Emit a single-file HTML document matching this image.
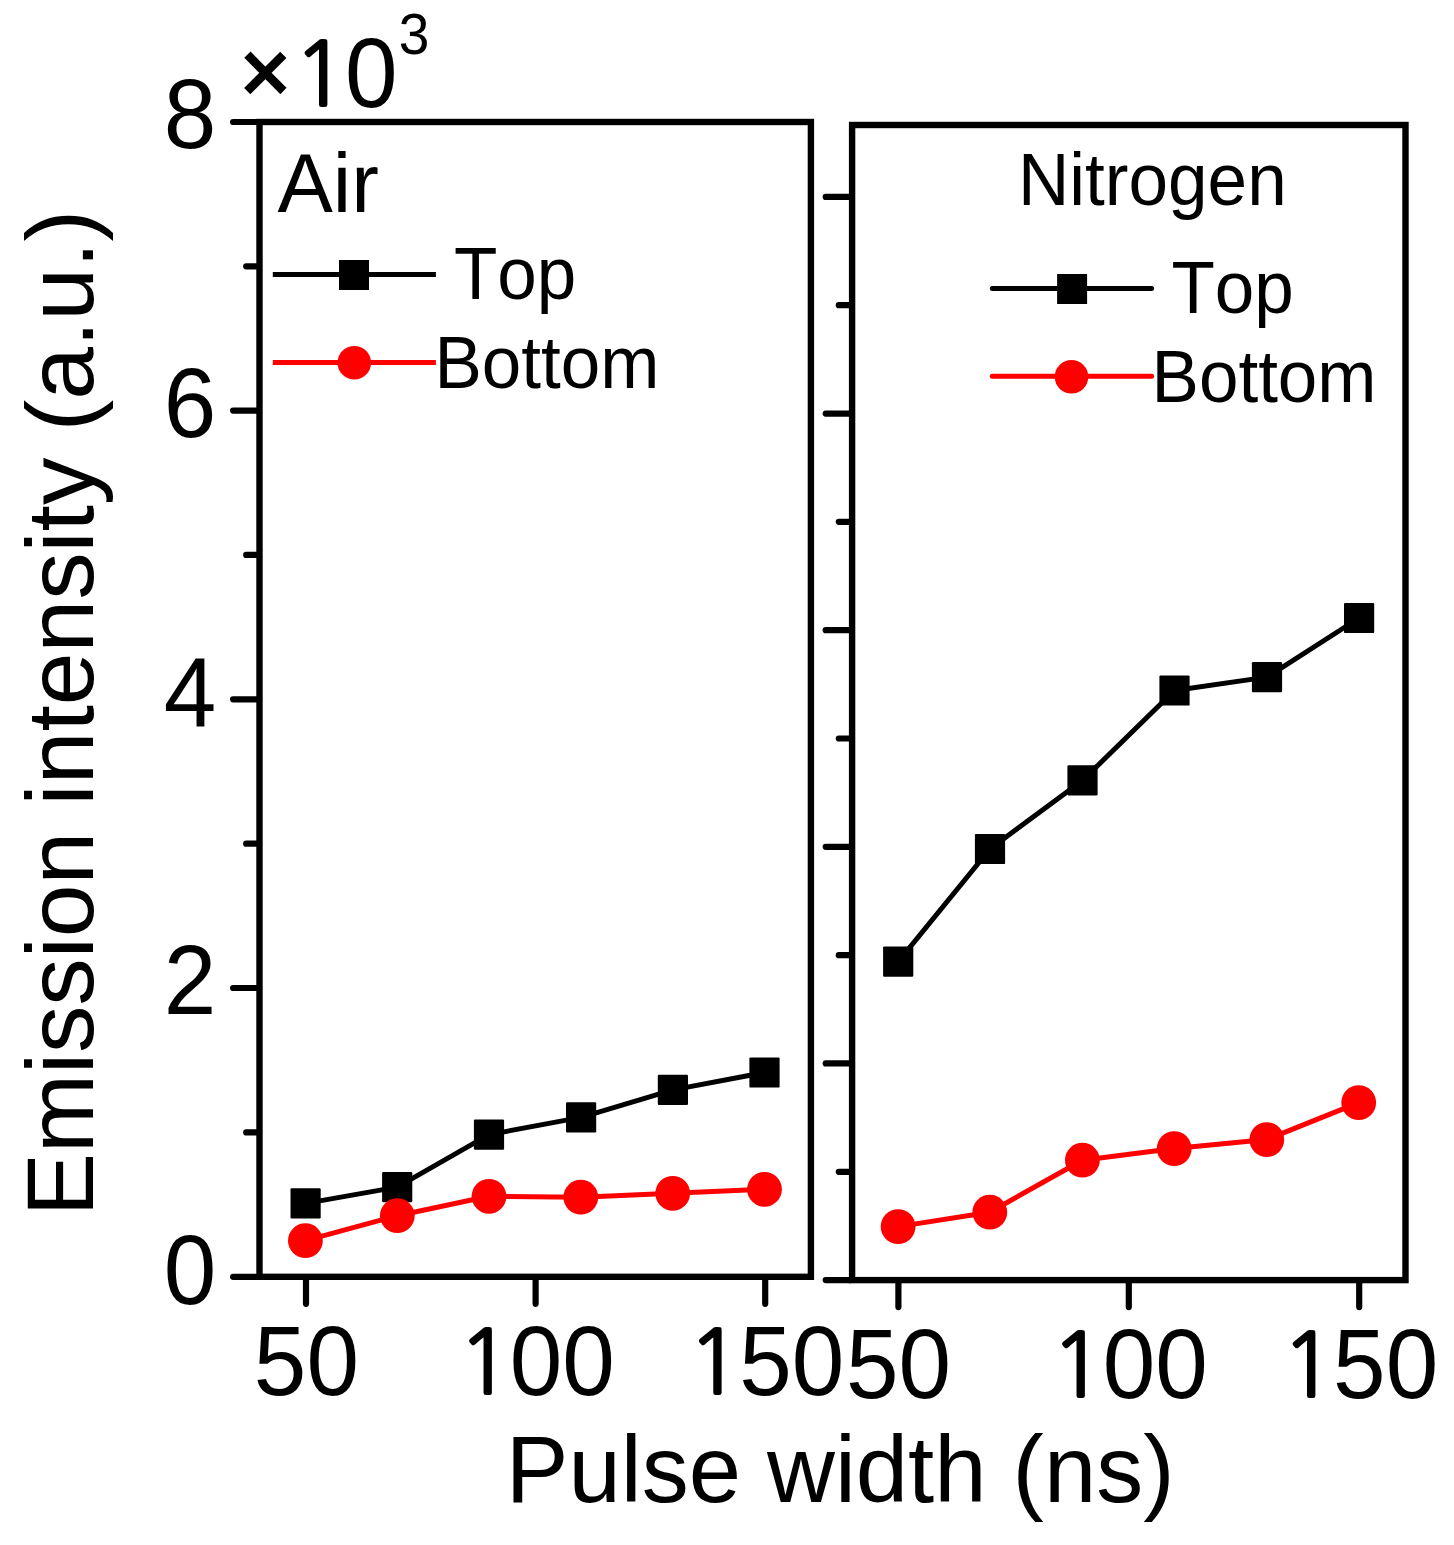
<!DOCTYPE html>
<html lang="en"><head><meta charset="utf-8"><title>Emission intensity vs pulse width</title>
<style>
html,body{margin:0;padding:0;background:#fff;}
body{width:1454px;height:1545px;overflow:hidden;}
svg{display:block;}
text{font-family:"Liberation Sans", Arial, Helvetica, sans-serif;fill:#000;font-kerning:none;font-variant-ligatures:none;}
.ax{stroke:#000;fill:none;}
.tk{stroke:#000;stroke-linecap:round;fill:none;}
</style></head><body>
<svg width="1454" height="1545" viewBox="0 0 1454 1545">
<rect x="0" y="0" width="1454" height="1545" fill="#fff"/>
<rect class="ax" x="259.50" y="122.00" width="551.40" height="1154.80" stroke-width="6.40"/>
<rect class="ax" x="852.10" y="125.00" width="553.40" height="1155.10" stroke-width="6.40"/>
<line class="tk" x1="233.10" y1="122.00" x2="258.00" y2="122.00" stroke-width="6.20"/>
<line class="tk" x1="233.10" y1="410.60" x2="258.00" y2="410.60" stroke-width="6.20"/>
<line class="tk" x1="233.10" y1="699.30" x2="258.00" y2="699.30" stroke-width="6.20"/>
<line class="tk" x1="233.10" y1="988.00" x2="258.00" y2="988.00" stroke-width="6.20"/>
<line class="tk" x1="233.10" y1="1276.80" x2="258.00" y2="1276.80" stroke-width="6.20"/>
<line class="tk" x1="246.20" y1="266.30" x2="258.00" y2="266.30" stroke-width="6.20"/>
<line class="tk" x1="246.20" y1="554.95" x2="258.00" y2="554.95" stroke-width="6.20"/>
<line class="tk" x1="246.20" y1="843.65" x2="258.00" y2="843.65" stroke-width="6.20"/>
<line class="tk" x1="246.20" y1="1132.40" x2="258.00" y2="1132.40" stroke-width="6.20"/>
<line class="tk" x1="825.70" y1="1280.10" x2="850.60" y2="1280.10" stroke-width="6.20"/>
<line class="tk" x1="838.80" y1="1171.78" x2="850.60" y2="1171.78" stroke-width="6.20"/>
<line class="tk" x1="825.70" y1="1063.46" x2="850.60" y2="1063.46" stroke-width="6.20"/>
<line class="tk" x1="838.80" y1="955.14" x2="850.60" y2="955.14" stroke-width="6.20"/>
<line class="tk" x1="825.70" y1="846.82" x2="850.60" y2="846.82" stroke-width="6.20"/>
<line class="tk" x1="838.80" y1="738.50" x2="850.60" y2="738.50" stroke-width="6.20"/>
<line class="tk" x1="825.70" y1="630.18" x2="850.60" y2="630.18" stroke-width="6.20"/>
<line class="tk" x1="838.80" y1="521.86" x2="850.60" y2="521.86" stroke-width="6.20"/>
<line class="tk" x1="825.70" y1="413.54" x2="850.60" y2="413.54" stroke-width="6.20"/>
<line class="tk" x1="838.80" y1="305.22" x2="850.60" y2="305.22" stroke-width="6.20"/>
<line class="tk" x1="825.70" y1="196.90" x2="850.60" y2="196.90" stroke-width="6.20"/>
<line class="tk" x1="306.00" y1="1278.30" x2="306.00" y2="1303.80" stroke-width="6.20"/>
<line class="tk" x1="535.60" y1="1278.30" x2="535.60" y2="1303.80" stroke-width="6.20"/>
<line class="tk" x1="765.20" y1="1278.30" x2="765.20" y2="1303.80" stroke-width="6.20"/>
<line class="tk" x1="898.40" y1="1281.60" x2="898.40" y2="1307.10" stroke-width="6.20"/>
<line class="tk" x1="1128.80" y1="1281.60" x2="1128.80" y2="1307.10" stroke-width="6.20"/>
<line class="tk" x1="1359.20" y1="1281.60" x2="1359.20" y2="1307.10" stroke-width="6.20"/>
<text transform="translate(189.90 148.00) scale(1 1.035)" font-size="94.50" text-anchor="middle">8</text>
<text transform="translate(189.90 436.60) scale(1 1.035)" font-size="94.50" text-anchor="middle">6</text>
<text transform="translate(189.90 725.80) scale(1 1.035)" font-size="94.50" text-anchor="middle">4</text>
<text transform="translate(189.90 1014.30) scale(1 1.035)" font-size="94.50" text-anchor="middle">2</text>
<text transform="translate(189.90 1303.80) scale(1 1.035)" font-size="94.50" text-anchor="middle">0</text>
<text transform="translate(253.84 1395.00) scale(1 1.035)" font-size="94.50" text-anchor="start">50</text>
<text transform="translate(457.37 1394.00) scale(1 0.972)" font-size="91.10" style="font-family:NanumGothic, 'Liberation Sans', sans-serif" stroke="#000" stroke-width="2.1">1</text>
<text transform="translate(509.72 1395.00) scale(1 1.035)" font-size="94.50" text-anchor="start">00</text>
<text transform="translate(686.97 1394.00) scale(1 0.972)" font-size="91.10" style="font-family:NanumGothic, 'Liberation Sans', sans-serif" stroke="#000" stroke-width="2.1">1</text>
<text transform="translate(739.32 1395.00) scale(1 1.035)" font-size="94.50" text-anchor="start">50</text>
<text transform="translate(846.04 1398.40) scale(1 1.035)" font-size="94.50" text-anchor="start">50</text>
<text transform="translate(1050.37 1397.40) scale(1 0.972)" font-size="91.10" style="font-family:NanumGothic, 'Liberation Sans', sans-serif" stroke="#000" stroke-width="2.1">1</text>
<text transform="translate(1102.72 1398.40) scale(1 1.035)" font-size="94.50" text-anchor="start">00</text>
<text transform="translate(1280.77 1397.40) scale(1 0.972)" font-size="91.10" style="font-family:NanumGothic, 'Liberation Sans', sans-serif" stroke="#000" stroke-width="2.1">1</text>
<text transform="translate(1333.12 1398.40) scale(1 1.035)" font-size="94.50" text-anchor="start">50</text>
<text x="240.1" y="102.4" font-size="86.8" stroke="#000" stroke-width="2.6">×</text>
<text transform="translate(292.70 105.90) scale(1 0.972)" font-size="91.10" style="font-family:NanumGothic, 'Liberation Sans', sans-serif" stroke="#000" stroke-width="2.1">1</text>
<text transform="translate(345.06 106.90) scale(1 1.035)" font-size="94.50" text-anchor="start">0</text>
<text transform="translate(398.70 54.20) scale(1 1.035)" font-size="55.00" text-anchor="start">3</text>
<text x="505.80" y="1501.80" font-size="94.00" text-anchor="start">Pulse width (ns)</text>
<text transform="translate(93 1216.3) rotate(-90)" font-size="94.8">Emission intensity (a.u.)</text>
<polyline fill="none" stroke="#000" stroke-width="5.00" stroke-linejoin="round" points="305.6,1203.4 397.2,1187.1 489.0,1134.6 581.1,1117.4 672.9,1089.9 764.5,1072.5"/>
<rect x="290.50" y="1188.30" width="30.20" height="30.20" rx="1.2" fill="#000"/>
<rect x="382.10" y="1172.00" width="30.20" height="30.20" rx="1.2" fill="#000"/>
<rect x="473.90" y="1119.50" width="30.20" height="30.20" rx="1.2" fill="#000"/>
<rect x="566.00" y="1102.30" width="30.20" height="30.20" rx="1.2" fill="#000"/>
<rect x="657.80" y="1074.80" width="30.20" height="30.20" rx="1.2" fill="#000"/>
<rect x="749.40" y="1057.40" width="30.20" height="30.20" rx="1.2" fill="#000"/>
<polyline fill="none" stroke="#ff0000" stroke-width="5.00" stroke-linejoin="round" points="305.4,1240.7 397.3,1215.7 489.0,1196.3 580.8,1197.2 672.7,1193.3 764.5,1189.3"/>
<circle cx="305.40" cy="1240.70" r="17.40" fill="#ff0000"/>
<circle cx="397.30" cy="1215.70" r="17.40" fill="#ff0000"/>
<circle cx="489.00" cy="1196.30" r="17.40" fill="#ff0000"/>
<circle cx="580.80" cy="1197.20" r="17.40" fill="#ff0000"/>
<circle cx="672.70" cy="1193.30" r="17.40" fill="#ff0000"/>
<circle cx="764.50" cy="1189.30" r="17.40" fill="#ff0000"/>
<polyline fill="none" stroke="#000" stroke-width="5.00" stroke-linejoin="round" points="898.2,961.7 990.0,849.0 1082.5,780.4 1174.5,690.5 1267.0,677.1 1359.1,618.0"/>
<rect x="883.10" y="946.60" width="30.20" height="30.20" rx="1.2" fill="#000"/>
<rect x="974.90" y="833.90" width="30.20" height="30.20" rx="1.2" fill="#000"/>
<rect x="1067.40" y="765.30" width="30.20" height="30.20" rx="1.2" fill="#000"/>
<rect x="1159.40" y="675.40" width="30.20" height="30.20" rx="1.2" fill="#000"/>
<rect x="1251.90" y="662.00" width="30.20" height="30.20" rx="1.2" fill="#000"/>
<rect x="1344.00" y="602.90" width="30.20" height="30.20" rx="1.2" fill="#000"/>
<polyline fill="none" stroke="#ff0000" stroke-width="5.00" stroke-linejoin="round" points="898.1,1226.6 989.8,1212.2 1082.4,1160.2 1174.2,1148.6 1266.8,1139.6 1358.7,1102.6"/>
<circle cx="898.10" cy="1226.60" r="17.40" fill="#ff0000"/>
<circle cx="989.80" cy="1212.20" r="17.40" fill="#ff0000"/>
<circle cx="1082.40" cy="1160.20" r="17.40" fill="#ff0000"/>
<circle cx="1174.20" cy="1148.60" r="17.40" fill="#ff0000"/>
<circle cx="1266.80" cy="1139.60" r="17.40" fill="#ff0000"/>
<circle cx="1358.70" cy="1102.60" r="17.40" fill="#ff0000"/>
<line x1="272.80" y1="274.50" x2="435.90" y2="274.50" stroke="#000" stroke-width="5" stroke-linecap="butt"/>
<rect x="339.00" y="260.00" width="30" height="30" fill="#000"/>
<line x1="272.80" y1="362.50" x2="435.90" y2="362.50" stroke="#ff0000" stroke-width="5" stroke-linecap="butt"/>
<circle cx="354.30" cy="362.70" r="16.8" fill="#ff0000"/>
<text x="277.40" y="211.70" font-size="83.00" text-anchor="start">Air</text>
<text transform="translate(454.00 299.00) scale(1 1.040)" font-size="71.00" text-anchor="start">Top</text>
<text transform="translate(434.50 387.90) scale(1 1.040)" font-size="71.00" text-anchor="start">Bottom</text>
<line x1="992.30" y1="288.50" x2="1151.60" y2="288.50" stroke="#000" stroke-width="5" stroke-linecap="round"/>
<rect x="1057.10" y="274.00" width="30" height="30" fill="#000"/>
<line x1="992.30" y1="376.30" x2="1151.60" y2="376.30" stroke="#ff0000" stroke-width="5" stroke-linecap="round"/>
<circle cx="1071.50" cy="376.80" r="16.8" fill="#ff0000"/>
<text transform="translate(1018.00 204.50) scale(1 1.040)" font-size="71.10" text-anchor="start">Nitrogen</text>
<text transform="translate(1171.50 312.50) scale(1 1.040)" font-size="71.00" text-anchor="start">Top</text>
<text transform="translate(1151.60 401.50) scale(1 1.040)" font-size="71.00" text-anchor="start">Bottom</text>
</svg>
</body></html>
